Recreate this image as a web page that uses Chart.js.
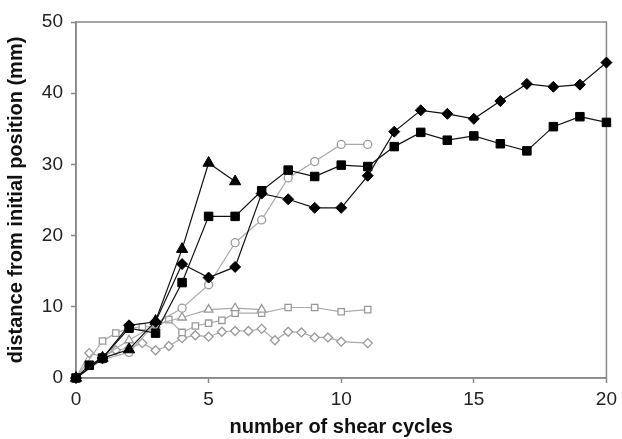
<!DOCTYPE html>
<html>
    <head>
        <script src="https://cdn.jsdelivr.net/npm/chart.js"></script>
        <style>
            body { margin: 0; background: #fff; }
        </style>
    </head>

    <body>
        <canvas id="shear" width="622" height="439"></canvas>

        <script>
            // black, filled markers
            const cyclesBlackDiamond = [0, 1, 2, 3, 4, 5, 6, 7, 8, 9, 10, 11, 12, 13, 14, 15, 16, 17, 18, 19, 20];
            const blackDiamond = [0, 2.8, 7.4, 7.9, 16.0, 14.1, 15.6, 25.9, 25.1, 23.9, 23.9, 28.4, 34.6, 37.6, 37.1, 36.4, 38.9, 41.3, 40.9, 41.2, 44.3];

            const cyclesBlackSquare = [0, 0.5, 1, 2, 3, 4, 5, 6, 7, 8, 9, 10, 11, 12, 13, 14, 15, 16, 17, 18, 19, 20];
            const blackSquare = [0, 1.8, 2.8, 7.0, 6.3, 13.4, 22.7, 22.7, 26.3, 29.2, 28.3, 29.9, 29.7, 32.5, 34.5, 33.4, 34.0, 32.9, 31.9, 35.3, 36.7, 35.9];

            const cyclesBlackTriangle = [0, 1, 2, 3, 4, 5, 6];
            const blackTriangle = [0, 2.8, 4.0, 8.0, 18.1, 30.2, 27.6];

            // grey, open markers
            const cyclesGreyCircle = [0, 1, 2, 3, 4, 5, 6, 7, 8, 9, 10, 11];
            const greyCircle = [0, 2.6, 3.6, 7.7, 9.8, 13.1, 19.0, 22.2, 28.1, 30.4, 32.8, 32.8];

            const cyclesGreyTriangle = [0, 1, 2, 3, 4, 5, 6, 7];
            const greyTriangle = [0, 3.0, 5.3, 7.5, 8.5, 9.6, 9.8, 9.6];

            const cyclesGreySquare = [0, 1, 1.5, 2, 2.5, 3, 3.5, 4, 4.5, 5, 5.5, 6, 7, 8, 9, 10, 11];
            const greySquare = [0, 5.2, 6.3, 7.0, 7.2, 7.2, 8.2, 6.4, 7.3, 7.7, 8.1, 9.1, 9.1, 9.9, 9.9, 9.3, 9.6];

            const cyclesGreyDiamond = [0, 0.5, 1, 1.5, 2, 2.5, 3, 3.5, 4, 4.5, 5, 5.5, 6, 6.5, 7, 7.5, 8, 8.5, 9, 9.5, 10, 11];
            const greyDiamond = [0, 3.5, 3.0, 3.9, 4.2, 4.9, 3.9, 4.5, 5.6, 6.0, 5.8, 6.5, 6.6, 6.6, 6.9, 5.3, 6.5, 6.4, 5.7, 5.7, 5.1, 4.9];

            const FONT = '"Liberation Sans", Arial, sans-serif';

            function pts(xs, ys) {
                return xs.map((x, i) => ({x: x, y: ys[i]}));
            }

            function black(xs, ys, style, r) {
                return {
                    data: pts(xs, ys),
                    showLine: true,
                    borderColor: '#111',
                    borderWidth: 1.2,
                    pointStyle: style,
                    pointRadius: r,
                    pointBackgroundColor: '#000',
                    pointBorderColor: '#000',
                    pointBorderWidth: 1,
                    clip: false
                };
            }

            function grey(xs, ys, style, r) {
                return {
                    data: pts(xs, ys),
                    showLine: true,
                    borderColor: '#aaa',
                    borderWidth: 1.2,
                    pointStyle: style,
                    pointRadius: r,
                    pointBackgroundColor: '#fff',
                    pointBorderColor: '#999',
                    pointBorderWidth: 1.3,
                    clip: false
                };
            }

            // box round the plot area
            const frame = {
                id: 'frame',
                beforeDatasetsDraw(chart) {
                    const a = chart.chartArea;
                    const c = chart.ctx;
                    c.save();
                    c.strokeStyle = '#888';
                    c.lineWidth = 1.5;
                    c.strokeRect(a.left, a.top, a.right - a.left, a.bottom - a.top);
                    c.restore();
                }
            };

            new Chart(document.getElementById('shear'), {
                type: 'scatter',
                data: {
                    datasets: [
                        black(cyclesBlackDiamond, blackDiamond, 'rectRot', 5.5),
                        black(cyclesBlackSquare, blackSquare, 'rect', 6),
                        black(cyclesBlackTriangle, blackTriangle, 'triangle', 6.5),
                        grey(cyclesGreyCircle, greyCircle, 'circle', 4),
                        grey(cyclesGreyTriangle, greyTriangle, 'triangle', 5),
                        grey(cyclesGreySquare, greySquare, 'rect', 4.5),
                        grey(cyclesGreyDiamond, greyDiamond, 'rectRot', 4.5)
                    ]
                },
                plugins: [frame],
                options: {
                    responsive: false,
                    animation: false,
                    layout: {
                        padding: {top: 22, right: 13, left: 0, bottom: 0}
                    },
                    plugins: {
                        legend: {display: false},
                        tooltip: {enabled: false}
                    },
                    scales: {
                        x: {
                            type: 'linear',
                            min: 0,
                            max: 20,
                            afterFit: s => { s.height = 61; },
                            ticks: {
                                stepSize: 5,
                                color: '#222',
                                padding: 5,
                                font: {family: FONT, size: 19}
                            },
                            grid: {
                                drawOnChartArea: false,
                                tickLength: 5,
                                color: '#888',
                                tickWidth: 1.5
                            },
                            border: {color: '#888', width: 1.5},
                            title: {
                                display: true,
                                text: 'number of shear cycles',
                                color: '#111',
                                padding: {top: 0, bottom: 0},
                                font: {family: FONT, size: 20, weight: 'bold'}
                            }
                        },
                        y: {
                            min: 0,
                            max: 50,
                            afterFit: s => { s.width = 76; },
                            ticks: {
                                stepSize: 10,
                                color: '#222',
                                padding: 8,
                                font: {family: FONT, size: 19}
                            },
                            grid: {
                                drawOnChartArea: false,
                                tickLength: 5,
                                color: '#888',
                                tickWidth: 1.5
                            },
                            border: {color: '#888', width: 1.5},
                            title: {
                                display: true,
                                text: 'distance from initial position (mm)',
                                color: '#111',
                                padding: {top: 4, bottom: 0},
                                font: {family: FONT, size: 20, weight: 'bold'}
                            }
                        }
                    }
                }
            });
        </script>
    </body>
</html>
